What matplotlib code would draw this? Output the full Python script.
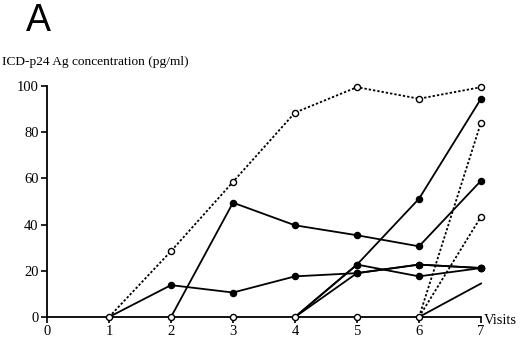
import numpy as np
import matplotlib.pyplot as plt

plt.rcParams['font.family'] = ['Liberation Serif', 'DejaVu Serif']

# visits and concentrations (pg/ml)
dotted_top_x = [1, 2, 3, 4, 5, 6, 7]
dotted_top_y = [0, 28.5, 58.5, 88.5, 99.5, 94.5, 99.5]

solid_low_x = [1, 2, 3, 4, 5, 6, 7]
solid_low_y = [0, 13.8, 10.6, 17.6, 19, 22.7, 21.2]

solid_mid_x = [2, 3, 4, 5, 6, 7]
solid_mid_y = [0, 49.5, 39.7, 35.4, 30.6, 59]

steep_x = [4, 5, 6, 7]
steep_y = [0, 22.7, 51.2, 94.5]

cross_x = [4, 5, 6, 7]
cross_y = [0, 22.7, 17.6, 21.2]

flat_x = [4, 5, 6, 7]
flat_y = [0, 19, 22.7, 21.2]

late_dot1_x = [6, 7]
late_dot1_y = [0, 84.2]
late_dot2_x = [6, 7]
late_dot2_y = [0, 43.4]
late_solid_x = [6, 7]
late_solid_y = [0, 14.5]

zero_x = [1, 2, 3, 4, 5, 6]
zero_y = [0, 0, 0, 0, 0, 0]

fig = plt.figure(figsize=(5.2, 3.4), dpi=100)
ax = fig.add_axes([0.0904, 0.0676, 0.8346, 0.6794])

dot = (0, (1.3, 1.1))
lw = 1.3

def draw(x, y, ls, filled):
    x = np.array(x)
    y = np.array(y, dtype=float)
    ax.plot(x, y, color='black', lw=lw, ls=ls, clip_on=False, zorder=3)
    nz = y > 0
    fc = 'black' if filled else 'white'
    ax.plot(x[nz], y[nz], 'o', ms=4.4, mfc=fc, mec='black', mew=1.0,
            clip_on=False, zorder=4)

draw(dotted_top_x, dotted_top_y, dot, False)
draw(solid_low_x, solid_low_y, '-', True)
draw(solid_mid_x, solid_mid_y, '-', True)
draw(steep_x, steep_y, '-', True)
draw(cross_x, cross_y, '-', True)
draw(flat_x, flat_y, '-', True)
draw(late_dot1_x, late_dot1_y, dot, False)
draw(late_dot2_x, late_dot2_y, dot, False)
ax.plot(late_solid_x, late_solid_y, color='black', lw=lw, clip_on=False, zorder=3)

ax.plot(zero_x, zero_y, 'o', ms=4.4, mfc='white', mec='black', mew=1.0,
        clip_on=False, zorder=5)

ax.set_xlim(0, 7)
ax.set_ylim(0, 100)
ax.set_xticks(range(8))
ax.set_yticks([0, 20, 40, 60, 80, 100])
for s in ['top', 'right']:
    ax.spines[s].set_visible(False)
for s in ['left', 'bottom']:
    ax.spines[s].set_linewidth(1.3)
ax.tick_params(direction='out', length=4, width=1.2, labelsize=10.5, pad=2)
ax.tick_params(axis='x', pad=1.5)

fig.text(484/520, 1 - 321/340, 'Visits', fontsize=10.5, ha='left', va='center')
fig.text(2/520, 1 - 62/340, 'ICD-p24 Ag concentration (pg/ml)', fontsize=9.6,
         ha='left', va='center')
fig.text(26/520, 1 - 31/340, 'A', family='Liberation Sans', fontsize=27,
         ha='left', va='baseline')

plt.savefig('out.png', dpi=100)
